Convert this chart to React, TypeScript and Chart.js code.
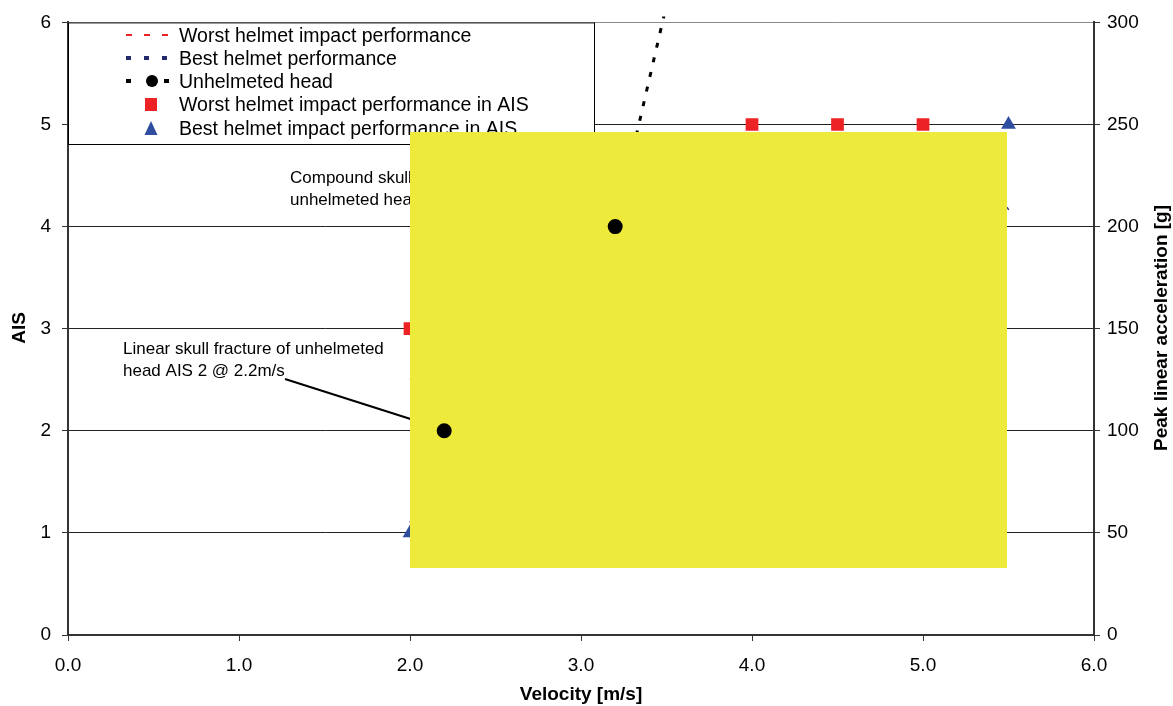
import React, { useEffect, useRef } from "react";
import { Chart, registerables } from "chart.js";

Chart.register(...registerables);

// ---- data ----
const xTickValues = [0, 1, 2, 3, 4, 5, 6];
const aisTickValues = [0, 1, 2, 3, 4, 5, 6];
const accelTickValues = [0, 50, 100, 150, 200, 250, 300];

// Peak linear acceleration curves [g] (right axis)
const worstLineX = [2.0, 3.0, 4.0, 5.0];
const worstLineG = [125, 165, 205, 235];
const bestLineX = [2.0, 3.0, 4.0, 5.0, 5.5];
const bestLineG = [55, 100, 145, 185, 209];
const unhelmetedX = [2.2, 3.2, 3.49];
const unhelmetedG = [100, 200, 305];

// AIS points (left axis)
const worstAisX = [2.0, 4.0, 4.5, 5.0];
const worstAisY = [3, 5, 5, 5];
const bestAisX = [2.0, 5.5];
const bestAisY = [1, 5];

const legendLabels = [
  "Worst helmet impact performance",
  "Best helmet performance",
  "Unhelmeted head",
  "Worst helmet impact performance in AIS",
  "Best helmet impact performance in AIS",
];

const annotationLinear = ["Linear skull fracture of unhelmeted", "head AIS 2 @ 2.2m/s"];
const annotationCompound = ["Compound skull fracture of", "unhelmeted head AIS 4 @ 3.2m/s"];

const FONT = "'Liberation Sans', Arial, Helvetica, sans-serif";
const RED = "#EC2224";
const NAVY = "#222A6C";
const BLUE = "#2F4EA0";
const YELLOW = "#EDEA3C";

const pts = (xs: number[], ys: number[]) => xs.map((x, i) => ({ x, y: ys[i] }));

const overlayPlugin = {
  id: "overlay",
  afterDatasetsDraw(chart: any) {
    const ctx = chart.ctx as CanvasRenderingContext2D;
    const area = chart.chartArea;
    const xs = chart.scales.x;
    const ys = chart.scales.y;
    ctx.save();

    // annotations
    ctx.fillStyle = "#000";
    ctx.font = `17px ${FONT}`;
    ctx.textBaseline = "alphabetic";
    ctx.textAlign = "left";
    ctx.fillText(annotationLinear[0], 123, 354);
    ctx.fillText(annotationLinear[1], 123, 376);
    ctx.fillText(annotationCompound[0], 290, 183);
    ctx.fillText(annotationCompound[1], 290, 205);
    ctx.strokeStyle = "#000";
    ctx.lineWidth = 2;
    ctx.beginPath();
    ctx.moveTo(285, 379);
    ctx.lineTo(xs.getPixelForValue(unhelmetedX[0]) - 3, ys.getPixelForValue(2) - 2);
    ctx.stroke();

    // legend box
    const L = { left: area.left, top: area.top, right: 594, bottom: 144 };
    ctx.fillStyle = "#fff";
    ctx.fillRect(L.left, L.top, L.right - L.left, L.bottom - L.top);
    ctx.strokeStyle = "#000";
    ctx.lineWidth = 1;
    ctx.strokeRect(L.left + 0.5, L.top + 0.5, L.right - L.left, L.bottom - L.top);

    const rowsY = [35, 58, 81, 104, 128];
    // red dashed
    ctx.strokeStyle = RED;
    ctx.lineWidth = 2;
    ctx.setLineDash([6, 12]);
    ctx.beginPath();
    ctx.moveTo(126, rowsY[0]);
    ctx.lineTo(170, rowsY[0]);
    ctx.stroke();
    // navy dashed
    ctx.strokeStyle = NAVY;
    ctx.lineWidth = 4;
    ctx.setLineDash([5, 13]);
    ctx.beginPath();
    ctx.moveTo(126, rowsY[1]);
    ctx.lineTo(170, rowsY[1]);
    ctx.stroke();
    // black dotted with circle
    ctx.strokeStyle = "#000";
    ctx.lineWidth = 4;
    ctx.setLineDash([5, 33]);
    ctx.beginPath();
    ctx.moveTo(126, rowsY[2]);
    ctx.lineTo(170, rowsY[2]);
    ctx.stroke();
    ctx.setLineDash([]);
    ctx.fillStyle = "#000";
    ctx.beginPath();
    ctx.arc(152, rowsY[2], 6, 0, Math.PI * 2);
    ctx.fill();
    // red square
    ctx.fillStyle = RED;
    ctx.fillRect(145, rowsY[3] - 6, 12, 13);
    // blue triangle
    ctx.fillStyle = BLUE;
    ctx.beginPath();
    ctx.moveTo(151, rowsY[4] - 7);
    ctx.lineTo(157.5, rowsY[4] + 7);
    ctx.lineTo(144.5, rowsY[4] + 7);
    ctx.closePath();
    ctx.fill();

    ctx.fillStyle = "#000";
    ctx.font = `19.5px ${FONT}`;
    const baselines = [42, 65, 88, 111, 135];
    legendLabels.forEach((t, i) => ctx.fillText(t, 179, baselines[i]));
    ctx.restore();
  },
  afterDraw(chart: any) {
    const ctx = chart.ctx as CanvasRenderingContext2D;
    const area = chart.chartArea;
    ctx.save();
    // axis titles
    ctx.fillStyle = "#000";
    ctx.font = `bold 19px ${FONT}`;
    ctx.textAlign = "center";
    ctx.textBaseline = "middle";
    ctx.fillText("Velocity [m/s]", (area.left + area.right) / 2, 695);
    ctx.save();
    ctx.translate(20, 328);
    ctx.rotate(-Math.PI / 2);
    ctx.fillText("AIS", 0, 0);
    ctx.restore();
    ctx.save();
    ctx.translate(1162, 328);
    ctx.rotate(-Math.PI / 2);
    ctx.fillText("Peak linear acceleration [g]", 0, 0);
    ctx.restore();

    // yellow block
    ctx.fillStyle = YELLOW;
    ctx.fillRect(410, 132, 597, 436);
    ctx.restore();

    // unhelmeted head markers sit on top of the block
    const meta = chart.getDatasetMeta(2);
    meta.data.forEach((el: any) => el.draw(ctx, area));
  },
};

export default function App() {
  const ref = useRef<HTMLCanvasElement | null>(null);
  useEffect(() => {
    if (!ref.current) return;
    const tickFont = { family: FONT, size: 19 };
    const chart = new Chart(ref.current, {
      type: "scatter",
      data: {
        datasets: [
          {
            label: legendLabels[0],
            data: pts(worstLineX, worstLineG),
            yAxisID: "y2",
            showLine: true,
            borderColor: RED,
            borderWidth: 2,
            borderDash: [6, 10],
            pointRadius: 0,
            fill: false,
          },
          {
            label: legendLabels[1],
            data: pts(bestLineX, bestLineG),
            yAxisID: "y2",
            showLine: true,
            borderColor: NAVY,
            borderWidth: 3,
            borderDash: [5, 10],
            pointRadius: 0,
            fill: false,
          },
          {
            label: legendLabels[2],
            data: pts(unhelmetedX, unhelmetedG),
            yAxisID: "y2",
            showLine: true,
            borderColor: "#000",
            borderWidth: 3,
            borderDash: [5, 10],
            pointRadius: [6, 6, 0],
            pointBackgroundColor: "#000",
            pointBorderColor: "#000",
            clip: { left: 5, top: 6, right: 5, bottom: 5 },
            fill: false,
          },
          {
            label: legendLabels[3],
            data: pts(worstAisX, worstAisY),
            yAxisID: "y",
            showLine: false,
            pointStyle: "rect",
            pointRadius: 9,
            pointBackgroundColor: RED,
            pointBorderColor: RED,
            pointBorderWidth: 0,
          },
          {
            label: legendLabels[4],
            data: pts(bestAisX, bestAisY),
            yAxisID: "y",
            showLine: false,
            pointStyle: "triangle",
            pointRadius: 8.5,
            pointBackgroundColor: BLUE,
            pointBorderColor: BLUE,
            pointBorderWidth: 0,
          },
        ],
      } as any,
      options: {
        responsive: false,
        maintainAspectRatio: false,
        animation: false,
        layout: { padding: { top: 22, left: 0, right: 0, bottom: 0 } },
        plugins: { legend: { display: false }, tooltip: { enabled: false } },
        scales: {
          x: {
            type: "linear",
            min: 0,
            max: 6,
            afterBuildTicks: (s: any) => {
              s.ticks = xTickValues.map((v) => ({ value: v }));
            },
            ticks: {
              callback: (v: any) => Number(v).toFixed(1),
              font: tickFont,
              color: "#000",
              padding: 13,
              maxRotation: 0,
            },
            grid: { drawOnChartArea: false, tickLength: 6, tickColor: "#333" },
            border: { color: "#333", width: 2 },
            afterFit: (s: any) => {
              s.height = 71;
            },
          },
          y: {
            type: "linear",
            position: "left",
            min: 0,
            max: 6,
            afterBuildTicks: (s: any) => {
              s.ticks = aisTickValues.map((v) => ({ value: v }));
            },
            ticks: { font: tickFont, color: "#000", padding: 11 },
            grid: {
              color: (c: any) => (c.tick && c.tick.value === 6 ? "#8a8a8a" : "#222"),
              lineWidth: 1,
              tickLength: 6,
              tickColor: "#333",
            },
            border: { color: "#333", width: 2 },
            afterFit: (s: any) => {
              s.width = 68;
            },
          },
          y2: {
            type: "linear",
            position: "right",
            min: 0,
            max: 300,
            afterBuildTicks: (s: any) => {
              s.ticks = accelTickValues.map((v) => ({ value: v }));
            },
            ticks: { font: tickFont, color: "#000", padding: 7 },
            grid: { drawOnChartArea: false, tickLength: 6, tickColor: "#333" },
            border: { color: "#333", width: 2 },
            afterFit: (s: any) => {
              s.width = 79;
            },
          },
        },
      } as any,
      plugins: [overlayPlugin],
    });
    return () => chart.destroy();
  }, []);

  return (
    <div style={{ position: "absolute", left: 0, top: 0, width: 1173, height: 706, background: "#fff" }}>
      <canvas ref={ref} width={1173} height={706} style={{ display: "block", width: 1173, height: 706 }} />
    </div>
  );
}
